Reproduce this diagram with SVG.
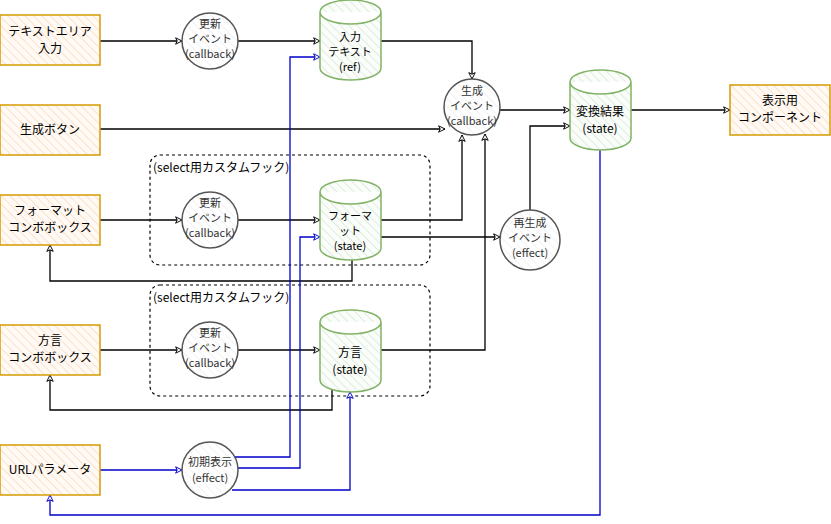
<svg xmlns="http://www.w3.org/2000/svg" width="831" height="524" viewBox="0 0 831 524">
<defs>
<pattern id="ho" width="6" height="6" patternUnits="userSpaceOnUse" patternTransform="rotate(-45)"><rect width="6" height="6" fill="#fffaf5"/><line x1="0" y1="0" x2="0" y2="6" stroke="#fbd9b8" stroke-width="1.5"/></pattern>
<pattern id="hg" width="6" height="6" patternUnits="userSpaceOnUse" patternTransform="rotate(-45)"><rect width="6" height="6" fill="#fbfdfa"/><line x1="0" y1="0" x2="0" y2="6" stroke="#d5e8d4" stroke-width="1.5"/></pattern>
<pattern id="hw" width="6" height="6" patternUnits="userSpaceOnUse" patternTransform="rotate(-45)"><rect width="6" height="6" fill="#fff"/><line x1="0" y1="0" x2="0" y2="6" stroke="#eee" stroke-width="1.5"/></pattern>
<marker id="ak" viewBox="0 0 10 10" refX="9" refY="5" markerWidth="8" markerHeight="8" orient="auto" markerUnits="userSpaceOnUse"><path d="M1,1 L9,5 L1,9 L3,5 Z" fill="#fff" stroke="#000" stroke-width="1.2"/></marker>
<marker id="ab" viewBox="0 0 10 10" refX="9" refY="5" markerWidth="8" markerHeight="8" orient="auto" markerUnits="userSpaceOnUse"><path d="M1,1 L9,5 L1,9 L3,5 Z" fill="#fff" stroke="#0000cc" stroke-width="1.2"/></marker>
</defs>
<style>
text{font-family:"Noto Sans CJK JP","Liberation Sans",sans-serif;font-size:12px;text-anchor:middle;fill:#000}
.g text{fill:#333;font-size:11px}
.s text{font-size:11px}
.r{fill:url(#ho);stroke:#d79b00;stroke-width:1.5}
.c{fill:url(#hg);stroke:#82b366;stroke-width:1.5}
.e{fill:url(#hw);stroke:#555;stroke-width:1.5}
.d{fill:none;stroke:#000;stroke-dasharray:3 3;stroke-width:1.2}
.k{fill:none;stroke:#000;stroke-width:1.3;marker-end:url(#ak)}
.b{fill:none;stroke:#0000cc;stroke-width:1.3;marker-end:url(#ab)}
.lb{text-anchor:start}
</style>
<g id="groups">
<rect class="d" x="150" y="155" width="280" height="110" rx="10"/>
<text class="lb" x="153" y="172">(select用カスタムフック)</text>
<rect class="d" x="150" y="285" width="280" height="111" rx="10"/>
<text class="lb" x="153" y="302">(select用カスタムフック)</text>
</g>
<g id="connectors">
<path class="k" d="M100,41 H182"/>
<path class="k" d="M238,41 H320"/>
<path class="k" d="M381,41 H472 V79"/>
<path class="k" d="M100,129 H445"/>
<path class="k" d="M100,220 H182"/>
<path class="k" d="M238,220 H320"/>
<path class="k" d="M381,220 H462 V135"/>
<path class="k" d="M381,237 H500"/>
<path class="k" d="M381,350 H485 V134"/>
<path class="k" d="M530,210 V126 H570"/>
<path class="k" d="M500,110 H570"/>
<path class="k" d="M631,110 H730"/>
<path class="k" d="M352,260 V281 H50 V245"/>
<path class="k" d="M332,388 V410 H50 V375"/>
<path class="k" d="M100,350 H182"/>
<path class="k" d="M238,350 H320"/>
<path class="b" d="M100,470 H182"/>
<path class="b" d="M234,457 H290 V57 H320"/>
<path class="b" d="M238,468 H300 V237 H320"/>
<path class="b" d="M232,490 H350 V392"/>
<path class="b" d="M600,150 V515 H50 V495"/>
</g>
<g id="n-textarea"><rect class="r" x="0" y="15" width="100" height="50"/><text x="50" y="36">テキストエリア</text><text x="50" y="53">入力</text></g>
<g id="n-button"><rect class="r" x="0" y="105" width="100" height="50"/><text x="50" y="134">生成ボタン</text></g>
<g id="n-format-combo"><rect class="r" x="0" y="195" width="100" height="50"/><text x="50" y="215">フォーマット</text><text x="50" y="232">コンボボックス</text></g>
<g id="n-dialect-combo"><rect class="r" x="0" y="325" width="100" height="50"/><text x="50" y="345">方言</text><text x="50" y="362">コンボボックス</text></g>
<g id="n-url"><rect class="r" x="0" y="445" width="100" height="50"/><text x="50" y="474">URLパラメータ</text></g>
<g id="n-display"><rect class="r" x="730" y="85" width="100" height="50"/><text x="780" y="105">表示用</text><text x="780" y="122">コンポーネント</text></g>
<g id="n-upd1" class="g"><circle class="e" cx="210" cy="41" r="28"/><text x="210" y="28">更新</text><text x="210" y="43">イベント</text><text x="210" y="58">(callback)</text></g>
<g id="n-upd2" class="g"><circle class="e" cx="210" cy="220" r="28"/><text x="210" y="207">更新</text><text x="210" y="222">イベント</text><text x="210" y="237">(callback)</text></g>
<g id="n-upd3" class="g"><circle class="e" cx="210" cy="350" r="28"/><text x="210" y="337">更新</text><text x="210" y="352">イベント</text><text x="210" y="367">(callback)</text></g>
<g id="n-init" class="g"><circle class="e" cx="210" cy="470" r="28"/><text x="210" y="466">初期表示</text><text x="210" y="482">(effect)</text></g>
<g id="n-gen" class="g"><circle class="e" cx="472" cy="107" r="28"/><text x="472" y="95">生成</text><text x="472" y="110">イベント</text><text x="472" y="125">(callback)</text></g>
<g id="n-regen" class="g"><circle class="e" cx="530" cy="240" r="30"/><text x="530" y="227">再生成</text><text x="530" y="242">イベント</text><text x="530" y="257">(effect)</text></g>
<g id="n-input" class="s"><path class="c" d="M320,12 A30.5,12 0 0 1 381,12 V68 A30.5,12 0 0 1 320,68 Z M320,12 A30.5,12 0 0 0 381,12"/><text x="350" y="41">入力</text><text x="350" y="56">テキスト</text><text x="350" y="71">(ref)</text></g>
<g id="n-format" class="s"><path class="c" d="M320,192 A30.5,12 0 0 1 381,192 V248 A30.5,12 0 0 1 320,248 Z M320,192 A30.5,12 0 0 0 381,192"/><text x="350" y="220">フォーマ</text><text x="350" y="235">ット</text><text x="350" y="250">(state)</text></g>
<g id="n-dialect"><path class="c" d="M320,322 A30.5,12 0 0 1 381,322 V380 A30.5,12 0 0 1 320,380 Z M320,322 A30.5,12 0 0 0 381,322"/><text x="350" y="357">方言</text><text x="350" y="374">(state)</text></g>
<g id="n-result"><path class="c" d="M570,82 A30.5,12 0 0 1 631,82 V138 A30.5,12 0 0 1 570,138 Z M570,82 A30.5,12 0 0 0 631,82"/><text x="600" y="116">変換結果</text><text x="600" y="133">(state)</text></g>
</svg>
